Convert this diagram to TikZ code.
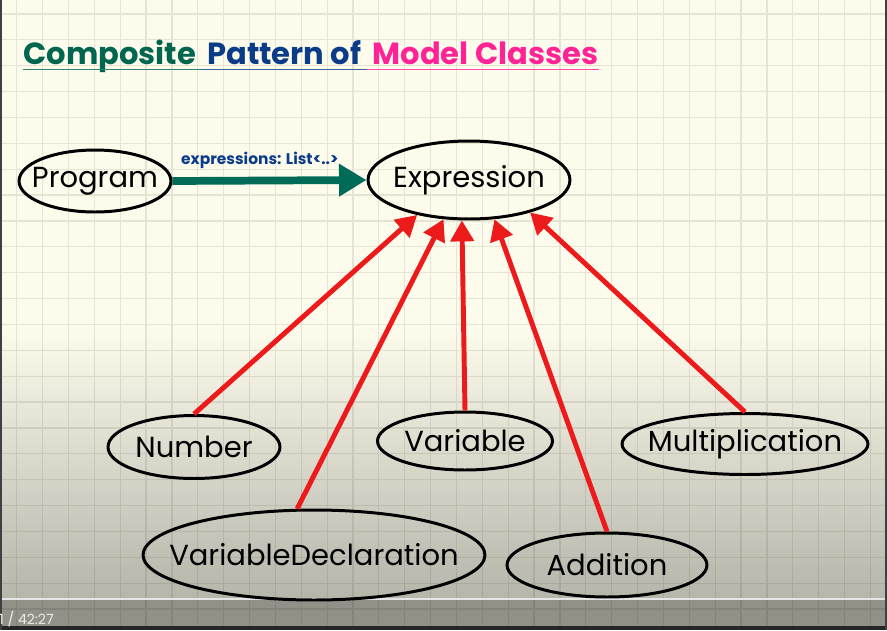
\documentclass[tikz,border=0pt]{standalone}
\usepackage{fontspec}
\setmainfont{Poppins}
\usetikzlibrary{arrows.meta,positioning,shapes.geometric,fadings}

\definecolor{paper}{HTML}{FCFBEC}
\definecolor{gridcol}{HTML}{E6E5D5}
\definecolor{titlegreen}{HTML}{00664F}
\definecolor{titleblue}{HTML}{0B3C88}
\definecolor{titlepink}{HTML}{FF2396}
\definecolor{arrowred}{HTML}{EC1A1A}
\definecolor{linkgreen}{HTML}{006B57}

% zero-width text, so the ellipse takes its size from minimum width/height
\newcommand{\clsname}[1]{\makebox[0pt]{#1}}

\begin{document}
\begin{tikzpicture}[x=0.02cm, y=-0.02cm,
    cls/.style={ellipse, draw, line width=1.7pt, inner sep=0pt,
                font=\fontsize{16.5}{19}\selectfont},
    isa/.style={-{Triangle[length=0.42cm, width=0.46cm]},
                line width=2.8pt, arrowred},
    has/.style={-{Triangle[length=0.55cm, width=0.62cm]},
                line width=4.4pt, linkgreen},
    gridline/.style={gridcol, line width=0.7pt},
    ttl/.style={font=\fontsize{17.4}{21}\selectfont\bfseries, inner sep=0pt},
    uline/.style={line width=0.8pt}
  ]
  \useasboundingbox (0,0) rectangle (887,630);
  % paper and grid
  \fill[paper] (0,0) rectangle (887,630);
  \foreach \gx in {0,...,33}
    \draw[gridline] ({16.7+25.87*\gx},0) -- ({16.7+25.87*\gx},630);
  \foreach \gy in {0,...,24}
    \draw[gridline] (0,{14+25.87*\gy}) -- (887,{14+25.87*\gy});
  % video overlay
  \fill[black, opacity=0.28, path fading=north] (0,330) rectangle (887,600);
  \fill[black, opacity=0.42] (0,600) rectangle (887,626);
  \draw[white!80!gray, line width=1.2pt] (0,599) -- (887,599);
  \fill[black!85] (0,626) rectangle (887,630);
  \fill[black!75] (0,0) rectangle (2.5,630);
  \fill[black!75] (884.5,0) rectangle (887,630);
  \node[font=\fontsize{8}{9}\selectfont, text=white!92!black, anchor=west,
        inner sep=0pt] (clock) at (-1,619) {1 / 42:27};

  % title
  \node[ttl, text=titlegreen, anchor=base west] (t1) at (23,64) {Composite};
  \node[ttl, text=titleblue, base right=6pt of t1] (t2) {Pattern of};
  \node[ttl, text=titlepink, base right=6pt of t2] (t3) {Model Classes};
  \draw[uline, titlegreen!80] ([yshift=-3pt]t1.base west) -- ([yshift=-3pt,xshift=3pt]t1.base east);
  \draw[uline, titleblue!80] ([yshift=-3pt,xshift=-3pt]t2.base west) -- ([yshift=-3pt,xshift=3pt]t2.base east);
  \draw[uline, titlepink!80] ([yshift=-3pt,xshift=-3pt]t3.base west) -- ([yshift=-3pt]t3.base east);

  % classes
  \node[cls, minimum width=3.04cm, minimum height=1.24cm] (program) at (95,181) {\clsname{Program}};
  \node[cls, minimum width=4.04cm, minimum height=1.56cm] (expr) at (469,180) {\clsname{Expression}};
  \node[cls, minimum width=3.44cm, minimum height=1.26cm] (number) at (194,447) {\clsname{Number}};
  \node[cls, minimum width=3.5cm, minimum height=1.16cm] (variable) at (465,441) {\clsname{Variable}};
  \node[cls, minimum width=4.92cm, minimum height=1.22cm] (mult) at (745,444) {\clsname{Multiplication}};
  \node[cls, minimum width=6.84cm, minimum height=1.8cm] (vardecl) at (314,555) {\clsname{VariableDeclaration}};
  \node[cls, minimum width=4cm, minimum height=1.28cm] (add) at (607,565) {\clsname{Addition}};

  % composition
  \draw[has] (program.east) -- node[above, pos=0.45, yshift=1pt,
      font=\fontsize{8.8}{10}\selectfont\bfseries, text=titleblue]
      {expressions: List<..>} (expr.west);

  % inheritance
  \draw[isa] (number.north) -- (expr.214);
  \draw[isa] (vardecl.110) -- (expr.237);
  \draw[isa] (variable.north) -- (expr.260);
  \draw[isa] (add.north) -- (expr.303);
  \draw[isa] (mult.north) -- (expr.332);
\end{tikzpicture}
\end{document}
